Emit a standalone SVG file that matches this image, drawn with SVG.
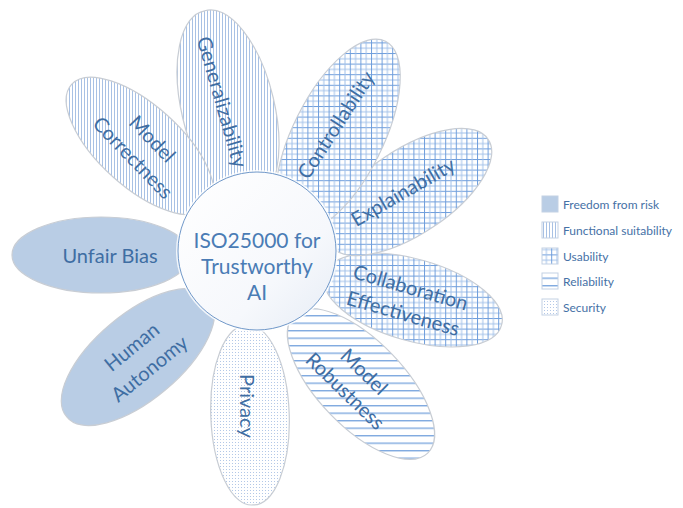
<svg xmlns="http://www.w3.org/2000/svg" width="683" height="508" viewBox="0 0 683 508">
<defs>
<pattern id="pFunc" patternUnits="userSpaceOnUse" width="3" height="3">
<rect width="3" height="3" fill="#ffffff"/>
<rect x="0" y="0" width="1" height="3" fill="#a8c1e4"/>
</pattern>
<pattern id="pUse" patternUnits="userSpaceOnUse" width="10.6" height="10.6">
<rect width="10.6" height="10.6" fill="#ffffff"/>
<rect x="0" y="0" width="10.6" height="1" fill="#6f9edc"/>
<rect x="0" y="5.3" width="10.6" height="1" fill="#a4c2ea"/>
<rect x="0" y="0" width="1" height="10.6" fill="#6f9edc"/>
<rect x="5.3" y="0" width="1" height="10.6" fill="#a4c2ea"/>
</pattern>
<pattern id="pRel" patternUnits="userSpaceOnUse" width="7.5" height="7.5">
<rect width="7.5" height="7.5" fill="#ffffff"/>
<rect x="0" y="0" width="7.5" height="1.4" fill="#80aadf"/>
</pattern>
<pattern id="pSec" patternUnits="userSpaceOnUse" width="3" height="3">
<rect width="3" height="3" fill="#ffffff"/>
<rect x="1" y="1" width="1" height="1" fill="#b3c8e7"/>
</pattern>
<linearGradient id="gHub" x1="0" y1="0" x2="1" y2="1">
<stop offset="0" stop-color="#ffffff"/>
<stop offset="0.65" stop-color="#f6f8fc"/>
<stop offset="1" stop-color="#e6ecf5"/>
</linearGradient>
<style>
.petal{stroke:#c8cdd4;stroke-width:1.2}
.risk{fill:#b9cde5}
.func{fill:url(#pFunc)}
.use{fill:url(#pUse)}
.rel{fill:url(#pRel)}
.sec{fill:url(#pSec)}
.lbl{font-family:Lato,"Liberation Sans",sans-serif;font-size:20px;fill:#3f6ea3;text-anchor:middle}
.hub{font-family:Lato,"Liberation Sans",sans-serif;font-size:21px;fill:#4a7cb5;text-anchor:middle}
.leg{font-family:Lato,"Liberation Sans",sans-serif;font-size:12px;fill:#4671a6}
.sw{stroke:#c3d1e4;stroke-width:1}
</style>
</defs>
<rect width="683" height="508" fill="#ffffff"/>

<g id="connectors"></g>

<g id="generalizability">
<path class="petal func" d="M251.3,205.2 A100,45 76.5 1 1 204.7,10.8 A100,45 76.5 1 1 251.3,205.2 Z"/>
<text class="lbl" transform="translate(222,102) rotate(74)" dy="0.35em">Generalizability</text>
</g>
<g id="model-correctness">
<path class="petal func" d="M208.4,207.6 A92,41 42 1 1 71.6,84.4 A92,41 42 1 1 208.4,207.6 Z"/>
<text class="lbl" transform="translate(143,148) rotate(46)"><tspan x="0" y="-6">Model</tspan><tspan x="0" y="21">Correctness</tspan></text>
</g>
<g id="unfair-bias">
<path class="petal risk" d="M190,255 A89,38 0 1 1 12,255 A89,38 0 1 1 190,255 Z"/>
<text class="lbl" x="110" y="263">Unfair Bias</text>
</g>
<g id="human-autonomy">
<path class="petal risk" d="M209.2,297.2 A93,42 -40 1 1 66.8,416.8 A93,42 -40 1 1 209.2,297.2 Z"/>
<text class="lbl" transform="translate(140,357) rotate(-39)"><tspan x="0" y="-6">Human</tspan><tspan x="0" y="22">Autonomy</tspan></text>
</g>
<g id="privacy">
<path class="petal sec" d="M253.1,504.9 A90,38 88 1 1 246.9,325.1 A90,38 88 1 1 253.1,504.9 Z"/>
<text class="lbl" transform="translate(247,406) rotate(90)" dy="0.35em">Privacy</text>
</g>
<g id="model-robustness">
<path class="petal rel" d="M427.7,453.1 A96,43 46 1 1 294.3,314.9 A96,43 46 1 1 427.7,453.1 Z"/>
<text class="lbl" transform="translate(355,381) rotate(44)"><tspan x="0" y="-6">Model</tspan><tspan x="0" y="21">Robustness</tspan></text>
</g>
<g id="collaboration-effectiveness">
<path class="petal use" d="M501.4,325.4 A92,40 16 1 1 324.6,274.6 A92,40 16 1 1 501.4,325.4 Z"/>
<text class="lbl" transform="translate(407,300) rotate(16)"><tspan x="0" y="-6">Collaboration</tspan><tspan x="0" y="21">Effectiveness</tspan></text>
</g>
<g id="explainability">
<path class="petal use" d="M488.1,139.4 A95,42 -33.6 1 1 329.9,244.6 A95,42 -33.6 1 1 488.1,139.4 Z"/>
<text class="lbl" transform="translate(403,192) rotate(-30)" dy="0.35em">Explainability</text>
</g>
<g id="controllability">
<path class="petal use" d="M385.5,41.2 A106,45 -63.4 1 1 290.5,230.8 A106,45 -63.4 1 1 385.5,41.2 Z"/>
<text class="lbl" transform="translate(336,125) rotate(-57)" dy="0.35em">Controllability</text>
</g>

<g id="hub">
<circle cx="257" cy="251" r="81" fill="#ffffff" opacity="0.8"/>
<circle cx="257" cy="251" r="79" fill="url(#gHub)" stroke="#7098c9" stroke-width="1"/>
<text class="hub"><tspan x="257" y="248">ISO25000 for</tspan><tspan x="257" y="274">Trustworthy</tspan><tspan x="257" y="300">AI</tspan></text>
</g>

<g id="legend">
<g id="legend-risk"><rect class="sw" x="542" y="196" width="16" height="16" fill="#b9cde5"/><text class="leg" x="563" y="208.5">Freedom from risk</text></g>
<g id="legend-func"><rect class="sw" x="542" y="222" width="16" height="16" fill="url(#pFunc)"/><text class="leg" x="563" y="234.5">Functional suitability</text></g>
<g id="legend-use"><rect class="sw" x="542" y="248" width="16" height="16" fill="url(#pUse)"/><text class="leg" x="563" y="260.5">Usability</text></g>
<g id="legend-rel"><rect class="sw" x="542" y="273" width="16" height="16" fill="url(#pRel)"/><text class="leg" x="563" y="285.5">Reliability</text></g>
<g id="legend-sec"><rect class="sw" x="542" y="299" width="16" height="16" fill="url(#pSec)"/><text class="leg" x="563" y="311.5">Security</text></g>
</g>
</svg>
